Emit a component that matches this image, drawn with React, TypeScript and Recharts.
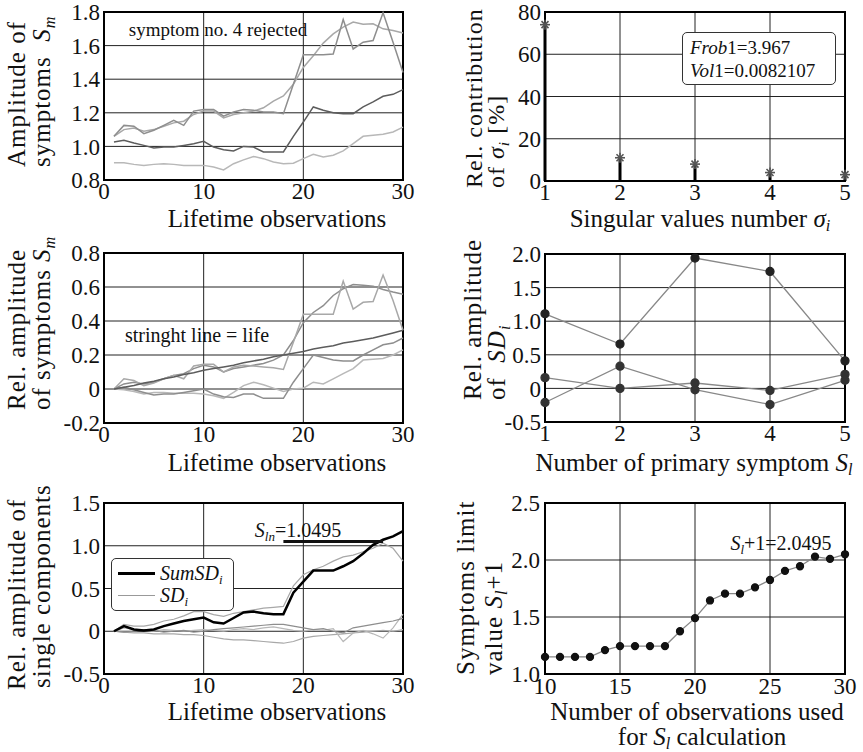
import React from 'react';
import {
  ComposedChart, LineChart, Line, XAxis, YAxis, CartesianGrid,
  ReferenceArea, ReferenceLine, Scatter, Bar,
} from 'recharts';

// ---------- data ----------
const OBS = [1,2,3,4,5,6,7,8,9,10,11,12,13,14,15,16,17,18,19,20,21,22,23,24,25,26,27,28,29,30];

// Panel 1: amplitude of symptoms S_m
const AMP_A = [1.06,1.125,1.12,1.076,1.096,1.125,1.155,1.125,1.21,1.22,1.22,1.18,1.205,1.22,1.215,1.205,1.205,1.195,1.37,1.546,1.546,1.546,1.55,1.755,1.58,1.62,1.63,1.795,1.62,1.44];
const AMP_B = [1.06,1.10,1.11,1.09,1.10,1.12,1.14,1.15,1.19,1.21,1.21,1.17,1.19,1.20,1.21,1.23,1.27,1.30,1.37,1.47,1.54,1.615,1.67,1.71,1.74,1.727,1.73,1.70,1.69,1.675];
const AMP_C = [1.026,1.036,1.02,1.006,0.99,0.996,0.996,1.006,1.016,1.03,0.996,0.98,0.973,1.0,0.996,0.967,0.967,0.967,1.06,1.145,1.235,1.215,1.2,1.195,1.195,1.235,1.265,1.298,1.31,1.338];
const AMP_D = [0.903,0.903,0.893,0.887,0.893,0.897,0.893,0.887,0.887,0.887,0.877,0.86,0.897,0.92,0.94,0.927,0.907,0.897,0.9,0.927,0.953,0.937,0.947,0.973,1.016,1.06,1.066,1.072,1.086,1.115];

// Panel 3: relative amplitude of symptoms
const REL_A = [0,0.06,0.05,0.02,0.035,0.06,0.08,0.06,0.135,0.145,0.145,0.10,0.13,0.14,0.135,0.13,0.125,0.115,0.275,0.44,0.44,0.44,0.44,0.635,0.47,0.51,0.515,0.67,0.52,0.345];
const REL_B = [0,0.03,0.04,0.03,0.04,0.06,0.08,0.09,0.12,0.14,0.13,0.10,0.12,0.13,0.14,0.15,0.17,0.2,0.285,0.39,0.45,0.49,0.55,0.59,0.615,0.61,0.605,0.585,0.57,0.557];
const REL_LIFE = [0,0.01,0.02,0.035,0.045,0.06,0.07,0.085,0.095,0.11,0.12,0.13,0.14,0.155,0.165,0.175,0.19,0.2,0.21,0.22,0.235,0.245,0.255,0.27,0.28,0.29,0.3,0.315,0.33,0.345];
const REL_C = [0,0.01,-0.005,-0.02,-0.035,-0.03,-0.03,-0.02,-0.01,0.0,-0.03,-0.045,-0.05,-0.03,-0.03,-0.055,-0.055,-0.055,0.04,0.12,0.2,0.185,0.17,0.165,0.165,0.2,0.23,0.26,0.27,0.3];
const REL_D = [0,-0.005,-0.015,-0.03,-0.02,-0.02,-0.025,-0.025,-0.025,-0.03,-0.04,-0.055,-0.02,0.02,0.04,0.025,0.005,-0.015,0.0,0.005,0.04,0.03,0.06,0.09,0.12,0.17,0.175,0.18,0.2,0.23];

// Panel 2: singular values
const SV_NUM = [1,2,3,4,5];
const SV_CONTRIB = [74,11,8,4,3];

// Panel 4: SD_i per primary symptom
const SYM_NUM = [1,2,3,4,5];
const SD_1 = [1.11,0.66,1.94,1.74,0.41];
const SD_2 = [0.16,0.0,0.08,-0.03,0.21];
const SD_3 = [-0.21,0.33,-0.02,-0.24,0.12];

// Panel 5: single components
const SUM_SD = [0,0.06,0.02,0.01,0.02,0.06,0.09,0.12,0.14,0.16,0.105,0.09,0.155,0.22,0.23,0.21,0.2,0.2,0.45,0.58,0.71,0.71,0.71,0.76,0.82,0.91,1.01,1.07,1.11,1.17];
const COMP_1 = [0,0.08,0.06,0.06,0.08,0.12,0.14,0.18,0.23,0.23,0.195,0.175,0.21,0.23,0.25,0.27,0.28,0.29,0.53,0.66,0.72,0.76,0.82,0.87,0.89,0.93,0.97,1.03,0.97,0.82];
const COMP_2 = [0,-0.01,-0.02,-0.02,-0.03,-0.03,-0.03,-0.04,-0.04,-0.05,-0.07,-0.09,-0.1,-0.1,-0.11,-0.12,-0.13,-0.14,-0.12,-0.08,-0.06,-0.05,-0.04,-0.03,-0.02,-0.01,0.0,0.01,0.0,0.02];
const COMP_3 = [0,0.04,0.02,0.01,0.0,0.02,0.01,0.0,0.01,0.02,0.01,0.0,0.02,0.03,0.02,0.04,0.05,0.03,0.01,0.0,0.02,0.01,0.03,-0.12,-0.02,0.01,-0.03,-0.08,0.04,0.2];
const COMP_4 = [0,-0.01,0.0,0.02,0.01,-0.01,0.0,0.01,-0.01,0.0,0.02,0.03,0.04,0.05,0.06,0.07,0.08,0.08,0.06,0.04,0.02,0.03,0.0,-0.02,0.04,0.06,0.08,0.1,0.12,0.15];
const S_LN = 1.0495;

// Panel 6: symptoms limit value
const NOBS = [10,11,12,13,14,15,16,17,18,19,20,21,22,23,24,25,26,27,28,29,30];
const LIMIT = [1.15,1.15,1.15,1.15,1.21,1.245,1.245,1.245,1.245,1.375,1.49,1.645,1.705,1.705,1.76,1.825,1.905,1.945,2.03,2.01,2.05];

// ---------- tables ----------
const p1 = OBS.map((x, i) => ({ x, a: AMP_A[i], b: AMP_B[i], c: AMP_C[i], d: AMP_D[i] }));
const p3 = OBS.map((x, i) => ({ x, a: REL_A[i], b: REL_B[i], l: REL_LIFE[i], c: REL_C[i], d: REL_D[i] }));
const p2 = SV_NUM.map((x, i) => ({ x, v: SV_CONTRIB[i] }));
const p4 = SYM_NUM.map((x, i) => ({ x, s1: SD_1[i], s2: SD_2[i], s3: SD_3[i] }));
const p5 = OBS.map((x, i) => ({ x, sum: SUM_SD[i], c1: COMP_1[i], c2: COMP_2[i], c3: COMP_3[i], c4: COMP_4[i] }));
const p6 = NOBS.map((x, i) => ({ x, v: LIMIT[i] }));

// ---------- styles ----------
const FONT = '"Liberation Serif", "DejaVu Serif", serif';
const tickStyle = { fill: '#111', fontSize: 23, fontFamily: FONT };
const fmt1 = (v: number) => (v === 0 ? '0' : v.toFixed(1));
const fmt0 = (v: number) => String(v);

const C_A = '#8e8e8e';
const C_B = '#a8a8a8';
const C_C = '#5c5c5c';
const C_D = '#b8b8b8';

const Asterisk = (props: any) => {
  const { cx, cy } = props;
  if (cx == null || cy == null) return null;
  const r = 5;
  const d = r * 0.7;
  return (
    <g stroke="#555" strokeWidth={1.6}>
      <line x1={cx - r} y1={cy} x2={cx + r} y2={cy} />
      <line x1={cx} y1={cy - r} x2={cx} y2={cy + r} />
      <line x1={cx - d} y1={cy - d} x2={cx + d} y2={cy + d} />
      <line x1={cx - d} y1={cy + d} x2={cx + d} y2={cy - d} />
    </g>
  );
};

const VLine = ({ cx, bottom, size = 25, children }: any) => (
  <div
    style={{
      position: 'absolute',
      left: cx - 15,
      top: bottom,
      height: 30,
      lineHeight: '30px',
      fontSize: size,
      fontFamily: FONT,
      color: '#111',
      letterSpacing: 1,
      whiteSpace: 'nowrap',
      transformOrigin: '0 0',
      transform: 'rotate(-90deg)',
    }}
  >
    {children}
  </div>
);

const HText = ({ cx, cy, size = 25, children, style }: any) => (
  <div
    style={{
      position: 'absolute',
      left: cx,
      top: cy,
      transform: 'translate(-50%, -50%)',
      fontSize: size,
      fontFamily: FONT,
      color: '#111',
      whiteSpace: 'nowrap',
      lineHeight: 1,
      ...style,
    }}
  >
    {children}
  </div>
);

const sub = (t: string) => (
  <sub style={{ fontSize: '0.65em', verticalAlign: '-0.3em', fontStyle: 'italic', lineHeight: 0 }}>{t}</sub>
);

const W = 430;
const H = 240;

export default function App() {
  return (
    <div style={{ position: 'absolute', left: 0, top: 0, width: 863, height: 752, background: '#fff', overflow: 'hidden' }}>
      {/* Panel 1 */}
      <div style={{ position: 'absolute', left: 0, top: 0 }}>
        <LineChart width={W} height={H} data={p1} margin={{ top: 12, right: 27, bottom: 30, left: 44 }}>
          <CartesianGrid stroke="#222" strokeWidth={1} />
          <XAxis dataKey="x" type="number" domain={[0, 30]} ticks={[0, 10, 20, 30]} interval={0} tickSize={0} tickMargin={3} axisLine={false} tick={tickStyle} height={30} />
          <YAxis type="number" domain={[0.8, 1.8]} ticks={[0.8, 1.0, 1.2, 1.4, 1.6, 1.8]} interval={0} tickFormatter={fmt1} width={60} tickSize={0} tickMargin={4} axisLine={false} tick={tickStyle} />
          <Line dataKey="d" stroke={C_D} strokeWidth={1.5} dot={false} isAnimationActive={false} />
          <Line dataKey="c" stroke={C_C} strokeWidth={1.5} dot={false} isAnimationActive={false} />
          <Line dataKey="b" stroke={C_B} strokeWidth={1.5} dot={false} isAnimationActive={false} />
          <Line dataKey="a" stroke={C_A} strokeWidth={1.5} dot={false} isAnimationActive={false} />
          <ReferenceArea x1={0} x2={30} y1={0.8} y2={1.8} fill="none" fillOpacity={0} stroke="#000" strokeWidth={2} />
        </LineChart>
      </div>

      {/* Panel 2 */}
      <div style={{ position: 'absolute', left: 440, top: 0 }}>
        <ComposedChart width={423} height={H} data={p2} margin={{ top: 12, right: 18, bottom: 29, left: 45 }}>
          <CartesianGrid stroke="#222" strokeWidth={1} />
          <XAxis dataKey="x" type="number" domain={[1, 5]} ticks={[1, 2, 3, 4, 5]} interval={0} tickSize={0} tickMargin={3} axisLine={false} tick={tickStyle} height={30} />
          <YAxis type="number" domain={[0, 80]} ticks={[0, 20, 40, 60, 80]} interval={0} tickFormatter={fmt0} width={60} tickSize={0} tickMargin={4} axisLine={false} tick={tickStyle} />
          <Bar dataKey="v" barSize={3} fill="#000" isAnimationActive={false} />
          <Scatter dataKey="v" shape={Asterisk} isAnimationActive={false} />
          <ReferenceArea x1={1} x2={5} y1={0} y2={80} fill="none" fillOpacity={0} stroke="#000" strokeWidth={2} />
        </ComposedChart>
      </div>

      {/* Panel 3 */}
      <div style={{ position: 'absolute', left: 0, top: 240 }}>
        <LineChart width={W} height={H} data={p3} margin={{ top: 13, right: 27, bottom: 27, left: 44 }}>
          <CartesianGrid stroke="#222" strokeWidth={1} />
          <XAxis dataKey="x" type="number" domain={[0, 30]} ticks={[0, 10, 20, 30]} interval={0} tickSize={0} tickMargin={3} axisLine={false} tick={tickStyle} height={30} />
          <YAxis type="number" domain={[-0.2, 0.8]} ticks={[-0.2, 0, 0.2, 0.4, 0.6, 0.8]} interval={0} tickFormatter={fmt1} width={60} tickSize={0} tickMargin={4} axisLine={false} tick={tickStyle} />
          <Line dataKey="d" stroke={C_D} strokeWidth={1.5} dot={false} isAnimationActive={false} />
          <Line dataKey="c" stroke={C_A} strokeWidth={1.5} dot={false} isAnimationActive={false} />
          <Line dataKey="b" stroke={C_A} strokeWidth={1.5} dot={false} isAnimationActive={false} />
          <Line dataKey="a" stroke={C_B} strokeWidth={1.5} dot={false} isAnimationActive={false} />
          <Line dataKey="l" stroke={C_C} strokeWidth={1.5} dot={false} isAnimationActive={false} />
          <ReferenceArea x1={0} x2={30} y1={-0.2} y2={0.8} fill="none" fillOpacity={0} stroke="#000" strokeWidth={2} />
        </LineChart>
      </div>

      {/* Panel 4 */}
      <div style={{ position: 'absolute', left: 440, top: 240 }}>
        <LineChart width={423} height={H} data={p4} margin={{ top: 14, right: 18, bottom: 28, left: 45 }}>
          <CartesianGrid stroke="#222" strokeWidth={1} />
          <XAxis dataKey="x" type="number" domain={[1, 5]} ticks={[1, 2, 3, 4, 5]} interval={0} tickSize={0} tickMargin={3} axisLine={false} tick={tickStyle} height={30} />
          <YAxis type="number" domain={[-0.5, 2]} ticks={[-0.5, 0, 0.5, 1, 1.5, 2]} interval={0} tickFormatter={fmt1} width={60} tickSize={0} tickMargin={4} axisLine={false} tick={tickStyle} />
          <Line dataKey="s2" stroke="#888" strokeWidth={1.3} dot={{ r: 4, fill: '#333', stroke: '#333' }} isAnimationActive={false} />
          <Line dataKey="s3" stroke="#888" strokeWidth={1.3} dot={{ r: 4, fill: '#333', stroke: '#333' }} isAnimationActive={false} />
          <Line dataKey="s1" stroke="#888" strokeWidth={1.3} dot={{ r: 4, fill: '#222', stroke: '#222' }} isAnimationActive={false} />
          <ReferenceArea x1={1} x2={5} y1={-0.5} y2={2} fill="none" fillOpacity={0} stroke="#000" strokeWidth={2} />
        </LineChart>
      </div>

      {/* Panel 5 */}
      <div style={{ position: 'absolute', left: 0, top: 490 }}>
        <LineChart width={W} height={H} data={p5} margin={{ top: 13, right: 27, bottom: 26, left: 44 }}>
          <CartesianGrid stroke="#222" strokeWidth={1} />
          <XAxis dataKey="x" type="number" domain={[0, 30]} ticks={[0, 10, 20, 30]} interval={0} tickSize={0} tickMargin={3} axisLine={false} tick={tickStyle} height={30} />
          <YAxis type="number" domain={[-0.5, 1.5]} ticks={[-0.5, 0, 0.5, 1, 1.5]} interval={0} tickFormatter={fmt1} width={60} tickSize={0} tickMargin={4} axisLine={false} tick={tickStyle} />
          <Line dataKey="c2" stroke={C_B} strokeWidth={1.2} dot={false} isAnimationActive={false} />
          <Line dataKey="c3" stroke={C_D} strokeWidth={1.2} dot={false} isAnimationActive={false} />
          <Line dataKey="c4" stroke={C_A} strokeWidth={1.2} dot={false} isAnimationActive={false} />
          <Line dataKey="c1" stroke={C_B} strokeWidth={1.2} dot={false} isAnimationActive={false} />
          <Line dataKey="sum" stroke="#000" strokeWidth={2.5} dot={false} isAnimationActive={false} />
          <ReferenceLine segment={[{ x: 18, y: S_LN }, { x: 28, y: S_LN }]} stroke="#111" strokeWidth={3} />
          <ReferenceArea x1={0} x2={30} y1={-0.5} y2={1.5} fill="none" fillOpacity={0} stroke="#000" strokeWidth={2} />
        </LineChart>
      </div>

      {/* Panel 6 */}
      <div style={{ position: 'absolute', left: 440, top: 490 }}>
        <LineChart width={423} height={H} data={p6} margin={{ top: 13, right: 18, bottom: 26, left: 45 }}>
          <CartesianGrid stroke="#222" strokeWidth={1} />
          <XAxis dataKey="x" type="number" domain={[10, 30]} ticks={[10, 15, 20, 25, 30]} interval={0} tickSize={0} tickMargin={4} axisLine={false} tick={tickStyle} height={30} />
          <YAxis type="number" domain={[1, 2.5]} ticks={[1, 1.5, 2, 2.5]} interval={0} tickFormatter={fmt1} width={60} tickSize={0} tickMargin={5} axisLine={false} tick={tickStyle} />
          <Line dataKey="v" stroke="#888" strokeWidth={1.3} dot={{ r: 3.5, fill: '#111', stroke: '#111' }} isAnimationActive={false} />
          <ReferenceArea x1={10} x2={30} y1={1} y2={2.5} fill="none" fillOpacity={0} stroke="#000" strokeWidth={2} />
        </LineChart>
      </div>

      {/* In-plot annotations */}
      <HText cx={218} cy={29} size={19}>symptom no. 4 rejected</HText>
      <HText cx={197} cy={335} size={20}>stringht line = life</HText>

      <div style={{ position: 'absolute', left: 682, top: 32, width: 154, height: 53, border: '1.5px solid #333', borderRadius: 5, background: '#fff', fontFamily: FONT, fontSize: 19, color: '#111', lineHeight: '23px', paddingTop: 3, paddingLeft: 7, boxSizing: 'border-box' }}>
        <div><i>Frob</i>1=3.967</div>
        <div><i>Vol</i>1=0.0082107</div>
      </div>

      <HText cx={298} cy={530} size={20}><i>S</i>{sub('ln')}=1.0495</HText>

      <div style={{ position: 'absolute', left: 111, top: 558, width: 123, height: 53, border: '1.5px solid #333', borderRadius: 5, background: '#fff', fontFamily: FONT, fontSize: 20, color: '#111', boxSizing: 'border-box' }}>
        <div style={{ position: 'absolute', left: 6, top: 13, width: 37, height: 0, borderTop: '3px solid #000' }} />
        <div style={{ position: 'absolute', left: 48, top: 3, lineHeight: '22px' }}><i>SumSD</i>{sub('i')}</div>
        <div style={{ position: 'absolute', left: 6, top: 36, width: 37, height: 0, borderTop: '1px solid #999' }} />
        <div style={{ position: 'absolute', left: 48, top: 25, lineHeight: '22px' }}><i>SD</i>{sub('i')}</div>
      </div>

      <HText cx={781} cy={543} size={20}><i>S</i>{sub('l')}+1=2.0495</HText>

      {/* X axis titles */}
      <HText cx={277} cy={218}>Lifetime observations</HText>
      <HText cx={700} cy={218}>Singular values number <i>σ</i>{sub('i')}</HText>
      <HText cx={277} cy={462}>Lifetime observations</HText>
      <HText cx={694} cy={462}>Number of primary symptom <i>S</i>{sub('l')}</HText>
      <HText cx={277} cy={711}>Lifetime observations</HText>
      <HText cx={697} cy={711}>Number of observations used</HText>
      <HText cx={702} cy={736}>for <i>S</i>{sub('l')} calculation</HText>

      {/* Y axis titles */}
      <VLine cx={17} bottom={167}>Amplitude of</VLine>
      <VLine cx={42} bottom={167}>symptoms&nbsp; <i>S</i>{sub('m')}</VLine>
      <VLine cx={474} bottom={188} size={24}>Rel. contribution</VLine>
      <VLine cx={496} bottom={188} size={24}>of <i>σ</i>{sub('i')} [%]</VLine>
      <VLine cx={17} bottom={410}>Rel. amplitude</VLine>
      <VLine cx={42} bottom={410}>of symptoms <i>S</i>{sub('m')}</VLine>
      <VLine cx={473} bottom={400}>Rel. amplitude</VLine>
      <VLine cx={497} bottom={400}>of&nbsp; <i>SD</i>{sub('i')}</VLine>
      <VLine cx={17} bottom={690}>Rel. amplitude of</VLine>
      <VLine cx={42} bottom={688}>single components</VLine>
      <VLine cx={466} bottom={675}>Symptoms limit</VLine>
      <VLine cx={494} bottom={675}>value <i>S</i>{sub('l')}+1</VLine>
    </div>
  );
}
